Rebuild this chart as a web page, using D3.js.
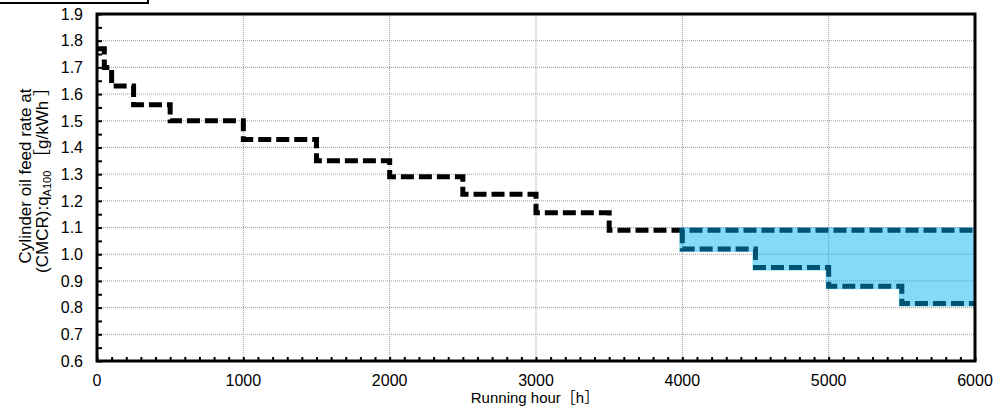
<!DOCTYPE html>
<html>
<head>
<meta charset="utf-8">
<script src="https://cdn.jsdelivr.net/npm/d3@7"></script>
<style>
  body { margin: 0; background: #fff; }
  svg { display: block; }
</style>
</head>
<body>
<svg id="chart"></svg>
<script>
// step start hours and the feed rate held from that hour on
const stepHours = [0, 50, 100, 250, 500, 1000, 1500, 2000, 2500, 3000, 3500];
const feedRate = [1.77, 1.70, 1.63, 1.56, 1.50, 1.43, 1.35, 1.29, 1.225, 1.155, 1.09];
// lower bound of the shaded band
const bandHours = [4000, 4500, 5000, 5500];
const bandLow = [1.02, 0.95, 0.88, 0.815];
const bandHigh = 1.09;
const xTicks = [0, 1000, 2000, 3000, 4000, 5000, 6000];
const yTicks = [0.6, 0.7, 0.8, 0.9, 1.0, 1.1, 1.2, 1.3, 1.4, 1.5, 1.6, 1.7, 1.8, 1.9];

const W = 1003, H = 410;
const m = {left: 97, top: 14, right: 975, bottom: 361};

const svg = d3.select("#chart").attr("width", W).attr("height", H);

const x = d3.scaleLinear().domain([0, 6000]).range([m.left, m.right]);
const y = d3.scaleLinear().domain([0.6, 1.9]).range([m.bottom, m.top]);

// cut-off box at the very top left
svg.append("rect")
    .attr("x", -5).attr("y", -20)
    .attr("width", 153).attr("height", 23)
    .attr("fill", "none").attr("stroke", "#000").attr("stroke-width", 2);

// grid
const grid = svg.append("g");
grid.selectAll("line.h")
    .data(yTicks.slice(1, -1))
    .enter().append("line")
    .attr("x1", m.left).attr("x2", m.right)
    .attr("y1", d => y(d)).attr("y2", d => y(d))
    .attr("stroke", "#9a9a9a").attr("stroke-width", 1)
    .attr("stroke-dasharray", "1,1");
grid.selectAll("line.v")
    .data(xTicks.slice(1, -1))
    .enter().append("line")
    .attr("y1", m.top).attr("y2", m.bottom)
    .attr("x1", d => x(d)).attr("x2", d => x(d))
    .attr("stroke", "#9a9a9a").attr("stroke-width", 1)
    .attr("stroke-dasharray", "1,1");

// main step line, runs on to 6000 at the last value
const mainPts = stepHours.map((h, i) => ({h: h, v: feedRate[i]}));
mainPts.push({h: 6000, v: feedRate[feedRate.length - 1]});

const lineFun = d3.line()
    .x(d => x(d.h))
    .y(d => y(d.v))
    .curve(d3.curveStepAfter);

svg.append("path")
    .attr("d", lineFun(mainPts))
    .attr("fill", "none")
    .attr("stroke", "#000")
    .attr("stroke-width", 5)
    .attr("stroke-dasharray", "13,5");

const lowPts = [{h: bandHours[0], v: bandHigh}]
    .concat(bandHours.map((h, i) => ({h: h, v: bandLow[i]})));
lowPts.push({h: 6000, v: bandLow[bandLow.length - 1]});

svg.append("path")
    .attr("d", lineFun(lowPts))
    .attr("fill", "none")
    .attr("stroke", "#000")
    .attr("stroke-width", 5)
    .attr("stroke-dasharray", "13,5");

// shaded band on top of the dashes
const areaPts = bandHours.map((h, i) => ({h: h, v: bandLow[i]}));
areaPts.push({h: 6000, v: bandLow[bandLow.length - 1]});
const areaFun = d3.area()
    .x(d => x(d.h))
    .y0(y(bandHigh))
    .y1(d => y(d.v))
    .curve(d3.curveStepAfter);

svg.append("defs").append("clipPath").attr("id", "plot")
    .append("rect")
    .attr("x", m.left).attr("y", m.top)
    .attr("width", m.right - m.left).attr("height", m.bottom - m.top);

svg.append("g")
    .attr("clip-path", "url(#plot)")
    .attr("opacity", 0.47)
    .append("path")
    .attr("d", areaFun(areaPts))
    .attr("fill", "#00b0f0")
    .attr("stroke", "#00b0f0")
    .attr("stroke-width", 6)
    .attr("stroke-linejoin", "miter");

// axes with inward ticks
const xAxis = svg.append("g")
    .attr("transform", `translate(0,${m.bottom})`)
    .call(d3.axisBottom(x).tickValues(d3.range(0, 6001, 100)).tickSize(-4).tickFormat(""));
const yAxis = svg.append("g")
    .attr("transform", `translate(${m.left},0)`)
    .call(d3.axisLeft(y).tickValues(d3.range(0.6, 1.901, 0.05)).tickSize(-5).tickFormat(""));
[xAxis, yAxis].forEach(a => {
    a.select(".domain").remove();
    a.selectAll("line").attr("stroke", "#000").attr("stroke-width", 2);
});

svg.append("g").selectAll("text")
    .data(xTicks)
    .enter().append("text")
    .text(d => d)
    .attr("x", d => x(d))
    .attr("y", 386)
    .attr("text-anchor", "middle")
    .attr("font-family", "Liberation Sans, Arial, sans-serif")
    .attr("font-size", "16px")
    .attr("fill", "#000");

svg.append("g").selectAll("text")
    .data(yTicks)
    .enter().append("text")
    .text(d => d.toFixed(1))
    .attr("x", 83)
    .attr("y", d => y(d))
    .attr("dy", "0.36em")
    .attr("text-anchor", "end")
    .attr("font-family", "Liberation Sans, Arial, sans-serif")
    .attr("font-size", "16px")
    .attr("fill", "#000");

// frame
svg.append("rect")
    .attr("x", m.left).attr("y", m.top)
    .attr("width", m.right - m.left).attr("height", m.bottom - m.top)
    .attr("fill", "none").attr("stroke", "#000").attr("stroke-width", 3);

// axis titles
const font = "Liberation Sans, 'Noto Sans CJK JP', sans-serif";
svg.append("text")
    .attr("x", 535).attr("y", 403)
    .attr("text-anchor", "middle")
    .attr("font-family", font)
    .attr("font-size", "15px")
    .text("Running hour［h］");

const yMid = 176;
svg.append("text")
    .attr("transform", `translate(31,${yMid}) rotate(-90)`)
    .attr("text-anchor", "middle")
    .attr("font-family", font)
    .attr("font-size", "17px")
    .text("Cylinder oil feed rate at");
const t2 = svg.append("text")
    .attr("transform", `translate(48,${yMid}) rotate(-90)`)
    .attr("text-anchor", "middle")
    .attr("font-family", font)
    .attr("font-size", "17px");
t2.append("tspan").text("(CMCR):q");
t2.append("tspan").attr("font-size", "11px").attr("dy", 3).text("A100");
t2.append("tspan").attr("dy", -3).text(" ［g/kWh ］");
</script>
</body>
</html>
